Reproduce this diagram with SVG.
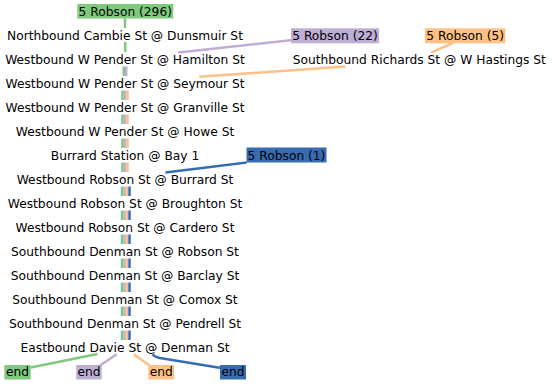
<svg xmlns="http://www.w3.org/2000/svg" width="552" height="384" viewBox="0 0 552 384">
<style>
text{font-family:"DejaVu Sans",sans-serif;font-size:12.25px;fill:#000;text-anchor:middle}
.c{fill:none;stroke-width:2.5}
.g{stroke:#7fc97f}.p{stroke:#beaed4}.o{stroke:#fdc086}.b{stroke:#386cb0}
.fg{fill:#7fc97f}.fp{fill:#beaed4}.fo{fill:#fdc086}.fb{fill:#386cb0}
</style>
<rect width="552" height="384" fill="#fff"/>
<g id="connectors">
<path class="c g" d="M125,18.5V28M125.2,42V52M123.8,66.5V76M122.5,90.5V100M122.5,114.5V124M122.5,138.5V148M122.5,162.5V172M122,186.5V196M122,210.5V220M122,234.5V244M122,258.5V268M122,282.5V292M122,306.5V316M122,330.5V340"/>
<path class="c p" d="M126.2,66.5V76M125,90.5V100M125,114.5V124M125,138.5V148M125,162.5V172M124.5,186.5V196M124.5,210.5V220M124.5,234.5V244M124.5,258.5V268M124.5,282.5V292M124.5,306.5V316M124.5,330.5V340"/>
<path class="c o" d="M127.5,90.5V100M127.5,114.5V124M127.5,138.5V148M127.5,162.5V172M127,186.5V196M127,210.5V220M127,234.5V244M127,258.5V268M127,282.5V292M127,306.5V316M127,330.5V340"/>
<path class="c b" d="M129.5,186.5V196M129.5,210.5V220M129.5,234.5V244M129.5,258.5V268M129.5,282.5V292M129.5,306.5V316M129.5,330.5V340"/>
<path class="c p" d="M293,40L178.3,52.5"/>
<path class="c o" d="M452.7,43L431,52.7"/>
<path class="c o" d="M345.3,66.5L199.3,76.8"/>
<path class="c b" d="M246.7,162.5L165.5,172.5"/>
<path class="c g" d="M97.3,354L30.7,367.5"/>
<path class="c p" d="M116.7,354.3L100,365.5"/>
<path class="c o" d="M134,354.3L150,366"/>
<path class="c b" d="M152.5,354.3C155.5,357.5 158,358 163,358.5L221,368"/>
</g>
<g id="label-296"><rect class="fg" x="77.3" y="4" width="96" height="14.5"/><text x="125.3" y="15.5">5 Robson (296)</text></g>
<g id="label-22"><rect class="fp" x="291" y="28.3" width="88" height="15"/><text x="335" y="39.5">5 Robson (22)</text></g>
<g id="label-5"><rect class="fo" x="425" y="28.3" width="80.3" height="15"/><text x="465.2" y="39.5">5 Robson (5)</text></g>
<g id="label-1"><rect class="fb" x="246.5" y="147.5" width="80" height="15"/><text x="286.5" y="159.5">5 Robson (1)</text></g>
<g id="s1"><text x="125" y="39.5">Northbound Cambie St @ Dunsmuir St</text></g>
<g id="s2"><text x="125" y="63.5">Westbound W Pender St @ Hamilton St</text></g>
<g id="s2b"><text x="419.3" y="63.5">Southbound Richards St @ W Hastings St</text></g>
<g id="s3"><text x="125" y="87.5">Westbound W Pender St @ Seymour St</text></g>
<g id="s4"><text x="125" y="111.5">Westbound W Pender St @ Granville St</text></g>
<g id="s5"><text x="125" y="135.5">Westbound W Pender St @ Howe St</text></g>
<g id="s6"><text x="125" y="159.5">Burrard Station @ Bay 1</text></g>
<g id="s7"><text x="125" y="183.5">Westbound Robson St @ Burrard St</text></g>
<g id="s8"><text x="125" y="207.5">Westbound Robson St @ Broughton St</text></g>
<g id="s9"><text x="125" y="231.5">Westbound Robson St @ Cardero St</text></g>
<g id="s10"><text x="125" y="255.5">Southbound Denman St @ Robson St</text></g>
<g id="s11"><text x="125" y="279.5">Southbound Denman St @ Barclay St</text></g>
<g id="s12"><text x="125" y="303.5">Southbound Denman St @ Comox St</text></g>
<g id="s13"><text x="125" y="327.5">Southbound Denman St @ Pendrell St</text></g>
<g id="s14"><text x="125" y="351.5">Eastbound Davie St @ Denman St</text></g>
<g id="end-g"><rect class="fg" x="4.3" y="365" width="26.4" height="14.5"/><text x="17.5" y="375.5">end</text></g>
<g id="end-p"><rect class="fp" x="76.3" y="365" width="25.4" height="14.5"/><text x="89" y="375.5">end</text></g>
<g id="end-o"><rect class="fo" x="148.3" y="365" width="25.7" height="14.5"/><text x="161.2" y="375.5">end</text></g>
<g id="end-b"><rect class="fb" x="220" y="365" width="26" height="14.5"/><text x="233" y="375.5">end</text></g>
</svg>
